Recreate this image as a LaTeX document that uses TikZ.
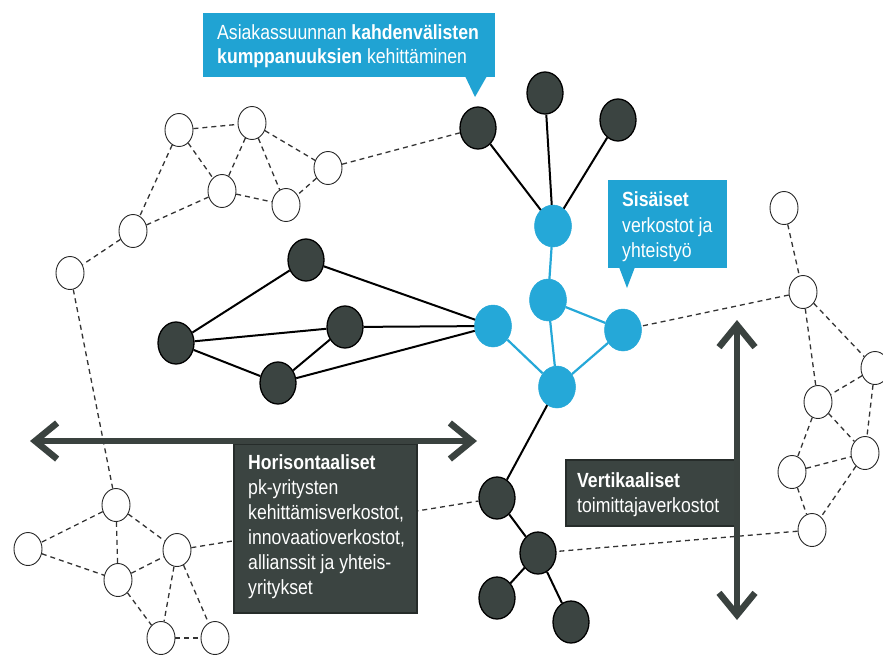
\documentclass[tikz,border=0pt]{standalone}
\usepackage{fontspec}
\newfontfamily\narrowsans[FakeStretch=0.86]{Liberation Sans}
\usetikzlibrary{arrows.meta,shapes.geometric}
\definecolor{cyanfill}{HTML}{25A8D8}
\definecolor{cyanbox}{HTML}{20A3D3}
\definecolor{darkfill}{HTML}{3B4441}
\definecolor{darkedge}{HTML}{262C2A}
\definecolor{arrowcol}{HTML}{3A423F}
\definecolor{dashcol}{HTML}{333333}
\begin{document}
\begin{tikzpicture}[x=1pt,y=-1pt,
  wnode/.style={ellipse,draw=black!85,line width=0.9pt,fill=white,minimum width=28pt,minimum height=33pt,inner sep=0pt},
  dnode/.style={ellipse,draw=black,line width=1.3pt,fill=darkfill,minimum width=36pt,minimum height=42pt,inner sep=0pt},
  cnode/.style={ellipse,draw=cyanfill,line width=0.5pt,fill=cyanfill,minimum width=37pt,minimum height=42pt,inner sep=0pt},
  dashedge/.style={draw=dashcol,line width=1.3pt,dash pattern=on 5pt off 4pt},
  solidedge/.style={draw=black,line width=2pt},
  cyanedge/.style={draw=cyanfill,line width=2.2pt},
  bigarrow/.style={draw=arrowcol,line width=6.5pt,
    {Straight Barb[length=22pt,width=36pt,line width=6.5pt]}-{Straight Barb[length=22pt,width=36pt,line width=6.5pt]}},
  darkbox/.style={draw=darkedge,line width=1.5pt,fill=darkfill,anchor=north west,inner sep=0pt},
  cyanboxst/.style={fill=cyanbox,draw=none,anchor=north west,inner sep=0pt},
  boxtext/.style={text=white,align=left,inner sep=0pt,anchor=west,
    font=\narrowsans\fontsize{20.5}{25}\selectfont},
]
\useasboundingbox (0,0) rectangle (883,656);
\fill[white] (0,0) rectangle (883,656);

% white nodes
\node[wnode] (A1) at (179,130) {};
\node[wnode] (A2) at (252,123) {};
\node[wnode] (A3) at (328,168) {};
\node[wnode] (A4) at (222,191) {};
\node[wnode] (A5) at (286,205) {};
\node[wnode] (A6) at (133,231) {};
\node[wnode] (A7) at (70,273) {};
\node[wnode] (B1) at (116,505) {};
\node[wnode] (B2) at (28,549) {};
\node[wnode] (B3) at (118,580) {};
\node[wnode] (B4) at (177,550) {};
\node[wnode] (B5) at (161,638) {};
\node[wnode] (B6) at (215,638) {};
\node[wnode] (R1) at (784,208) {};
\node[wnode] (R2) at (803,292) {};
\node[wnode] (R3) at (875,368) {};
\node[wnode] (R4) at (818,402) {};
\node[wnode] (R5) at (865,453) {};
\node[wnode] (R6) at (792,472) {};
\node[wnode] (R7) at (812,530) {};
% dark nodes
\node[dnode] (T1) at (478,128) {};
\node[dnode] (T2) at (545,93) {};
\node[dnode] (T3) at (618,120) {};
\node[dnode] (L1) at (306,260) {};
\node[dnode] (L2) at (176,343) {};
\node[dnode] (L3) at (345,327) {};
\node[dnode] (L4) at (278,383) {};
\node[dnode] (E1) at (497,498) {};
\node[dnode] (E2) at (538,553) {};
\node[dnode] (E3) at (497,598) {};
\node[dnode] (E4) at (571,622) {};
% cyan nodes
\node[cnode] (C1) at (493,326) {};
\node[cnode] (C2) at (553,226) {};
\node[cnode] (C3) at (548,300) {};
\node[cnode] (C4) at (623,330) {};
\node[cnode] (C5) at (557,387) {};

% dashed edges
\foreach \a/\b in {A1/A2,A1/A4,A1/A6,A2/A4,A2/A5,A2/A3,A3/A5,A4/A5,A4/A6,A6/A7,A3/T1,A7/B1,
  B1/B2,B1/B3,B1/B4,B2/B3,B3/B4,B3/B5,B4/B5,B4/B6,B5/B6,B4/E1,
  R1/R2,R2/R3,R2/R4,R2/C4,R3/R4,R3/R5,R4/R5,R4/R6,R6/R5,R6/R7,R5/R7,R7/E2}
  \draw[dashedge] (\a) -- (\b);
% solid edges
\foreach \a/\b in {T1/C2,T2/C2,T3/C2,L1/L2,L1/C1,L2/L3,L2/L4,L4/L3,L3/C1,L4/C1,C5/E1,E1/E2,E2/E3,E2/E4}
  \draw[solidedge] (\a) -- (\b);
% cyan edges
\foreach \a/\b in {C1/C5,C2/C3,C3/C5,C3/C4,C4/C5}
  \draw[cyanedge] (\a) -- (\b);

% dark boxes
\node[darkbox,minimum width=183pt,minimum height=169pt] (hbox) at (233,443) {};
\node[boxtext] (htext) at (248,527) {\bfseries Horisontaaliset\\pk-yritysten\\kehittämisverkostot,\\innovaatioverkostot,\\allianssit ja yhteis-\\yritykset};
\node[darkbox,minimum width=170pt,minimum height=66pt] (vbox) at (565,459) {};
\node[boxtext] (vtext) at (577,495) {\bfseries Vertikaaliset\\toimittajaverkostot};

% big arrows
\coordinate (hl) at (30,441);
\coordinate (hr) at (477,441);
\coordinate (vt) at (737,320);
\coordinate (vb) at (737,620);
\draw[bigarrow] (hl) -- (hr);
\draw[bigarrow] (vt) -- (vb);

% cyan callouts
\node[cyanboxst,minimum width=292pt,minimum height=64pt] (topbox) at (203,13) {};
\fill[cyanbox] (465,76) -- (475,97) -- (487,76) -- cycle;
\node[boxtext,font=\narrowsans\fontsize{20.5}{24}\selectfont] (toptext) at (217,46) {Asiakassuunnan \textbf{kahdenvälisten}\\\textbf{kumppanuuksien} kehittäminen};
\node[cyanboxst,minimum width=119pt,minimum height=88pt] (sbox) at (608,180) {};
\fill[cyanbox] (619,267) -- (627,288) -- (635,267) -- cycle;
\node[boxtext,font=\narrowsans\fontsize{20.5}{25.5}\selectfont] (stext) at (622,227) {\bfseries Sisäiset\\verkostot ja\\yhteistyö};
\end{tikzpicture}
\end{document}
